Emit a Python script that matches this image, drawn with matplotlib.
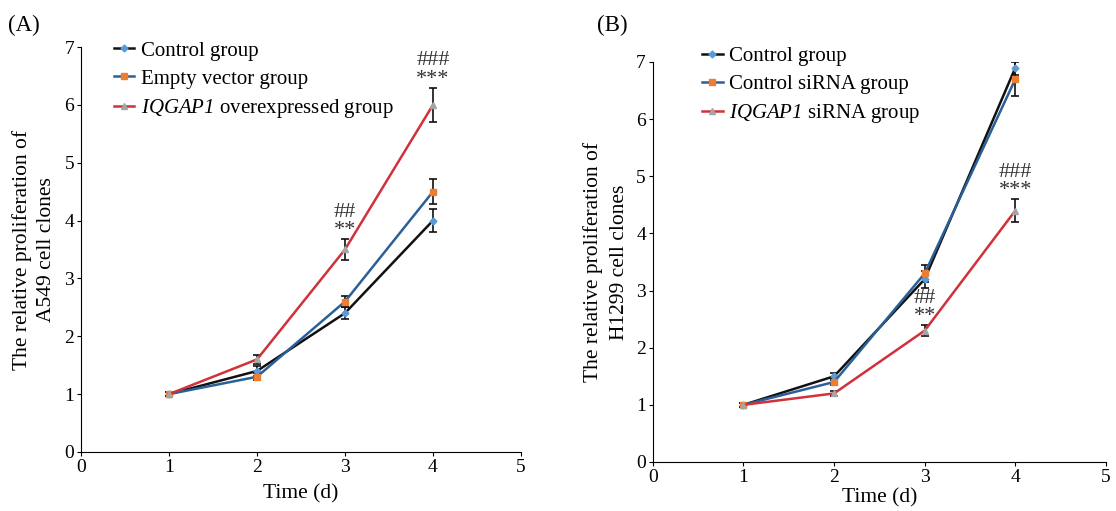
import numpy as np
import matplotlib
matplotlib.use("Agg")
import matplotlib.pyplot as plt
from matplotlib.lines import Line2D

plt.rcParams["font.family"] = ["Liberation Serif", "DejaVu Serif"]
# gene names are set fully in italic (digits too)
plt.rcParams["mathtext.fontset"] = "custom"
plt.rcParams["mathtext.rm"] = "Liberation Serif:italic"
plt.rcParams["mathtext.it"] = "Liberation Serif:italic"

days = [1, 2, 3, 4]

# Panel A: A549
a_control = [1.0, 1.4, 2.4, 4.0]
a_control_err = [0.03, 0.08, 0.1, 0.2]
a_empty = [1.0, 1.3, 2.6, 4.5]
a_empty_err = [0.03, 0.06, 0.1, 0.22]
a_iqgap = [1.0, 1.6, 3.5, 6.0]
a_iqgap_err = [0.03, 0.08, 0.18, 0.3]

# Panel B: H1299
b_control = [1.0, 1.5, 3.2, 6.9]
b_control_err = [0.03, 0.06, 0.15, 0.12]
b_sirna = [1.0, 1.4, 3.3, 6.7]
b_sirna_err = [0.03, 0.06, 0.15, 0.3]
b_iqgap = [1.0, 1.2, 2.3, 4.4]
b_iqgap_err = [0.03, 0.05, 0.1, 0.2]

a_labels = ["Control group", "Empty vector group", "$IQGAP1$ overexpressed group"]
b_labels = ["Control group", "Control siRNA group", "$IQGAP1$ siRNA group"]

line_colors = ["#111111", "#2a6099", "#d0313a"]
marker_colors = ["#5b9bd5", "#ed7d31", "#a5a5a5"]
markers = ["D", "s", "^"]
msizes = [3.5, 5, 5]

fig = plt.figure(figsize=(11.16, 5.11), dpi=100)
axA = fig.add_axes([0.0726, 0.1155, 0.3942, 0.7925])
axB = fig.add_axes([0.585, 0.0959, 0.406, 0.7828])


def draw(ax, series, errs, labels, anchor, xpad):
    handles = []
    for i, (ys, es, lab) in enumerate(zip(series, errs, labels)):
        ax.errorbar(days, ys, yerr=es, color=line_colors[i], lw=1.8,
                    marker=markers[i], ms=msizes[i], mfc=marker_colors[i],
                    mec=marker_colors[i], ecolor="#111111", elinewidth=1.2,
                    capsize=3, capthick=1.2)
        handles.append(Line2D([], [], color=line_colors[i], lw=1.8,
                              marker=markers[i], ms=msizes[i],
                              mfc=marker_colors[i], mec=marker_colors[i],
                              label=lab))
    ax.set_xlim(0, 5)
    ax.set_ylim(0, 7)
    ax.set_xticks(range(6))
    ax.set_yticks(range(8))
    for s in ["top", "right"]:
        ax.spines[s].set_visible(False)
    ax.tick_params(labelsize=14, direction="out", length=3, pad=2)
    ax.set_xlabel("Time (d)", fontsize=15.5, labelpad=xpad)
    ax.legend(handles=handles, loc="upper left", bbox_to_anchor=anchor,
              frameon=False, fontsize=15, handlelength=1.0, handletextpad=0.3,
              labelspacing=0.4, borderaxespad=0)


draw(axA, [a_control, a_empty, a_iqgap], [a_control_err, a_empty_err, a_iqgap_err],
     a_labels, (0.055, 1.035), 6)
draw(axB, [b_control, b_sirna, b_iqgap], [b_control_err, b_sirna_err, b_iqgap_err],
     b_labels, (0.09, 1.06), 2)

axA.set_ylabel("The relative proliferation of\nA549 cell clones", fontsize=15.5,
               labelpad=6, linespacing=1.35)
axB.set_ylabel("The relative proliferation of\nH1299 cell clones", fontsize=15.5,
               labelpad=5, linespacing=1.5)

# significance marks
sig_kw = dict(ha="center", va="bottom", fontsize=16, color="#333333")
axA.text(3, a_iqgap[2] + a_iqgap_err[2] - 0.02, "**", **sig_kw)
axA.text(3, a_iqgap[2] + a_iqgap_err[2] + 0.3, "##", **sig_kw)
axA.text(4, a_iqgap[3] + a_iqgap_err[3] - 0.02, "***", **sig_kw)
axA.text(4, a_iqgap[3] + a_iqgap_err[3] + 0.3, "###", **sig_kw)
axB.text(3, b_iqgap[2] + b_iqgap_err[2] - 0.02, "**", **sig_kw)
axB.text(3, b_iqgap[2] + b_iqgap_err[2] + 0.3, "##", **sig_kw)
axB.text(4, b_iqgap[3] + b_iqgap_err[3] - 0.02, "***", **sig_kw)
axB.text(4, b_iqgap[3] + b_iqgap_err[3] + 0.3, "###", **sig_kw)

fig.text(0.007, 0.95, "(A)", fontsize=16.5, va="center")
fig.text(0.535, 0.95, "(B)", fontsize=16.5, va="center")

fig.savefig("out.png", dpi=100)
